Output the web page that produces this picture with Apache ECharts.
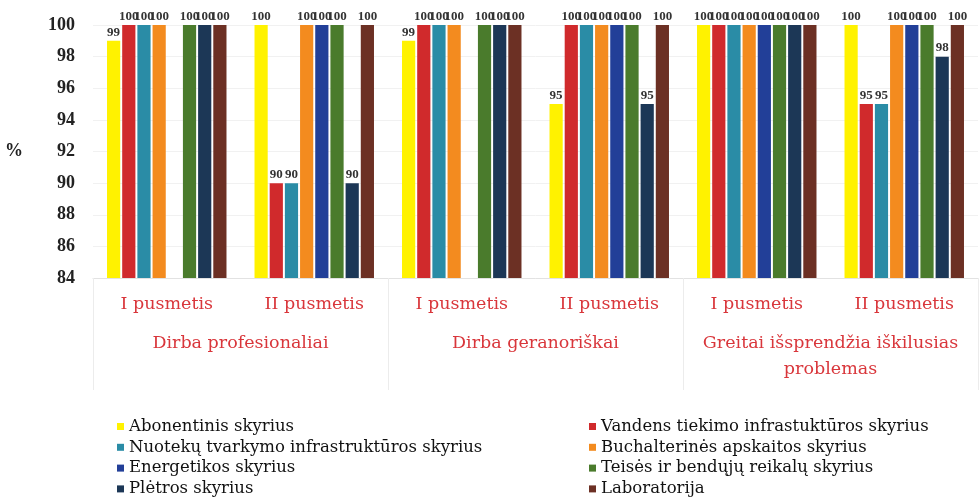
<!DOCTYPE html>
<html><head><meta charset="utf-8">
<script src="https://cdn.jsdelivr.net/npm/echarts@6/dist/echarts.min.js"></script>
<style>html,body{margin:0;padding:0;background:#fff}#c{width:979px;height:497px}</style>
</head><body><div id="c"></div>
<script>
const periods = ['I pusmetis','II pusmetis','I pusmetis','II pusmetis','I pusmetis','II pusmetis'];
const groups = ['Dirba profesionaliai','Dirba geranoriškai','Greitai išsprendžia iškilusias\nproblemas'];
const seriesNames = ['Abonentinis skyrius','Vandens tiekimo infrastuktūros skyrius','Nuotekų tvarkymo infrastruktūros skyrius','Buchalterinės apskaitos skyrius','Energetikos skyrius','Teisės ir bendųjų reikalų skyrius','Plėtros skyrius','Laboratorija'];
const abonentinis = [99,100,99,95,100,100];
const vandens = [100,90,100,100,100,95];
const nuoteku = [100,90,100,100,100,95];
const buchalterines = [100,100,100,100,100,100];
const energetikos = [null,100,null,100,100,100];
const teises = [100,100,100,100,100,100];
const pletros = [100,90,100,95,100,98];
const laboratorija = [100,100,100,100,100,100];
const yTicks = {min:84, max:100, interval:2};

const colors = ['#FFF200','#D02A2C','#2A8CA6','#F38B1F','#223F98','#4A7B2C','#1C3756','#6C3024'];
const values = [abonentinis,vandens,nuoteku,buchalterines,energetikos,teises,pletros,laboratorija];
const serif = '"Liberation Serif","DejaVu Serif",serif';
const wide = '"DejaVu Serif","Liberation Serif",serif';

const legendCommon = {orient:'vertical',top:418,height:90,itemWidth:7,itemHeight:7,itemGap:3.8,icon:'rect',
  padding:0,textStyle:{fontFamily:wide,fontSize:16.5,color:'#111',lineHeight:15}};

const chart = echarts.init(document.getElementById('c'));
chart.setOption({
  animation:false,
  color:colors,
  grid:{left:93,right:1,top:25,bottom:219,containLabel:false,outerBoundsMode:'none'},
  legend:[
    Object.assign({left:117,data:[seriesNames[0],seriesNames[2],seriesNames[4],seriesNames[6]]},legendCommon),
    Object.assign({left:589,data:[seriesNames[1],seriesNames[3],seriesNames[5],seriesNames[7]]},legendCommon)
  ],
  xAxis:[
    {type:'category',data:periods,position:'bottom',
     axisLine:{show:true,lineStyle:{color:'#e2e2e2'}},axisTick:{show:false},
     axisLabel:{interval:0,margin:17,fontFamily:wide,fontSize:17.5,color:'#D9363B'}},
    {type:'category',data:groups,position:'bottom',
     axisLine:{show:false},
     axisTick:{show:true,length:112,interval:0,lineStyle:{color:'#ececec'}},
     axisLabel:{interval:0,hideOverlap:false,margin:52,fontFamily:wide,fontSize:17.5,color:'#D9363B',lineHeight:26,verticalAlign:'top'}}
  ],
  yAxis:{type:'value',min:yTicks.min,max:yTicks.max,interval:yTicks.interval,
    name:'%',nameLocation:'middle',nameRotate:0,nameGap:70,
    nameTextStyle:{fontFamily:serif,fontSize:18,fontWeight:'bold',color:'#222'},
    axisLine:{show:false},axisTick:{show:false},
    splitLine:{lineStyle:{color:'#f1f1f1'}},
    axisLabel:{margin:18,fontFamily:serif,fontSize:18,fontWeight:'bold',color:'#222'}},
  series: seriesNames.map((n,i)=>({
    name:n,type:'bar',xAxisIndex:0,data:values[i],
    barGap:'15%',barCategoryGap:'19%',
    label:{show:true,position:'top',distance:2,fontFamily:serif,fontSize:13,fontWeight:'bold',color:'#333'}
  }))
});
</script></body></html>
